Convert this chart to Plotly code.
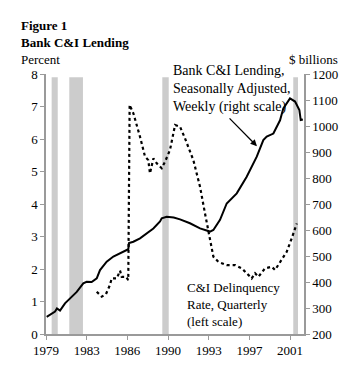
import plotly.graph_objects as go

# Bank C&I lending, weekly (right scale, $ billions)
lend_x = [1979.06, 1979.80, 1979.97, 1980.24, 1980.68, 1981.20, 1981.72, 1982.30, 1982.60, 1983.04,
          1983.49, 1983.78, 1984.37, 1984.96, 1985.55, 1986.28, 1986.35, 1986.73, 1987.32, 1987.91,
          1988.50, 1989.09, 1989.24, 1989.68, 1990.30, 1990.86, 1991.74, 1992.63, 1993.51, 1993.81,
          1994.40, 1994.99, 1995.88, 1996.76, 1997.65, 1998.23, 1998.53, 1999.12, 1999.71, 2000.00,
          2000.59, 2001.04, 2001.42, 2001.54, 2001.73]
lend_y = [266, 286, 298, 290, 318, 340, 362, 395, 401, 400,
          414, 446, 478, 498, 510, 526, 550, 555, 568, 588,
          606, 633, 645, 651, 648, 641, 626, 606, 594, 600,
          639, 702, 741, 805, 882, 946, 959, 971, 1022, 1068,
          1106, 1094, 1061, 1023, 1025]

# C&I delinquency rate, quarterly (left scale, percent)
delq_x = [1983.49, 1983.93, 1984.31, 1984.66, 1984.81, 1985.26, 1985.55, 1985.70, 1986.08, 1986.28,
          1986.40, 1986.73, 1987.32, 1987.76, 1988.05, 1988.20, 1988.50, 1988.80, 1989.24, 1989.53,
          1989.97, 1990.42, 1990.86, 1991.30, 1992.04, 1992.63, 1993.07, 1993.51, 1993.81, 1994.25,
          1994.99, 1995.73, 1996.32, 1996.90, 1997.20, 1997.50, 1997.79, 1998.38, 1998.97, 1999.27,
          1999.71, 2000.30, 2000.74, 2001.04, 2001.19]
delq_y = [1.30, 1.15, 1.23, 1.51, 1.71, 1.71, 1.95, 1.76, 1.76, 1.66,
          7.05, 6.79, 6.07, 5.46, 5.35, 4.94, 5.40, 5.25, 5.10, 5.30,
          5.66, 6.43, 6.38, 6.02, 5.35, 4.53, 3.71, 2.89, 2.38, 2.22,
          2.12, 2.12, 2.02, 1.82, 1.71, 1.87, 1.76, 2.02, 2.07, 1.97,
          2.22, 2.53, 2.94, 3.30, 3.40]

# Recession shading (start, end)
rec_start = [1979.50, 1981.06, 1989.29, 2000.88]
rec_end = [1980.04, 1982.27, 1989.86, 2001.30]

tick_vals = [1979, 1982.6, 1986.2, 1989.8, 1993.4, 1997.0, 2000.6]
tick_text = ["1979", "1983", "1986", "1990", "1993", "1997", "2001"]
left_ticks = [0, 1, 2, 3, 4, 5, 6, 7, 8]
right_ticks = [200, 300, 400, 500, 600, 700, 800, 900, 1000, 1100, 1200]

FONT = "'Liberation Serif', 'Times New Roman', Times, serif"
AXC = "#9a9a9a"

fig = go.Figure()
fig.add_trace(go.Scatter(x=delq_x, y=delq_y, mode="lines", yaxis="y",
                         line=dict(color="black", width=2.2, dash="dot"), showlegend=False))
fig.add_trace(go.Scatter(x=lend_x, y=lend_y, mode="lines", yaxis="y2",
                         line=dict(color="black", width=2), showlegend=False))

for s, e in zip(rec_start, rec_end):
    fig.add_shape(type="rect", xref="x", yref="y", x0=s, x1=e, y0=0, y1=7.9,
                  fillcolor="#cccccc", line=dict(width=0), layer="below")

fig.update_layout(
    width=352, height=366,
    margin=dict(l=38, r=56, t=66, b=40),
    paper_bgcolor="white", plot_bgcolor="white",
    font=dict(family=FONT, size=13, color="black"),
    xaxis=dict(range=[1979, 2001.83], tickvals=tick_vals, ticktext=tick_text,
               showgrid=False, zeroline=False, showline=True, linecolor=AXC, linewidth=1.5,
               ticks="outside", ticklen=4, tickcolor=AXC, tickfont=dict(size=13)),
    yaxis=dict(range=[0, 8], tickvals=left_ticks, showgrid=False, zeroline=False,
               showline=True, linecolor=AXC, linewidth=1.5,
               ticks="outside", ticklen=4, tickcolor=AXC, tickfont=dict(size=13)),
    yaxis2=dict(range=[200, 1200], tickvals=right_ticks, overlaying="y", side="right",
                showgrid=False, zeroline=False, showline=True, linecolor=AXC, linewidth=1.5,
                ticks="outside", ticklen=4, tickcolor=AXC, tickfont=dict(size=13)),
)

fig.add_annotation(xref="paper", yref="paper", x=-0.105, y=1.222, xanchor="left", yanchor="top",
                   text="<b>Figure 1</b><br><b>Bank C&I Lending</b>", align="left", showarrow=False,
                   font=dict(size=13))
fig.add_annotation(xref="paper", yref="paper", x=-0.103, y=1.054, xanchor="left", yanchor="middle",
                   text="Percent", showarrow=False, font=dict(size=13))
fig.add_annotation(xref="paper", yref="paper", x=0.935, y=1.054, xanchor="left", yanchor="middle",
                   text="$ billions", showarrow=False, font=dict(size=13))
fig.add_annotation(xref="x", yref="paper", x=1990.1, y=1.05, xanchor="left", yanchor="top",
                   text="Bank C&I Lending,<br>Seasonally Adjusted,<br>Weekly (right scale)",
                   align="left", showarrow=False, font=dict(size=14))
fig.add_annotation(xref="x", yref="y", x=1991.3, y=1.72, xanchor="left", yanchor="top",
                   text="C&I Delinquency<br>Rate, Quarterly<br>(left scale)",
                   align="left", showarrow=False, font=dict(size=13))
fig.add_annotation(xref="x", yref="y", x=1997.67, y=5.78, axref="x", ayref="y",
                   ax=1995.11, ay=6.68, text="", showarrow=True, arrowhead=2,
                   arrowsize=1, arrowwidth=1.3, arrowcolor="black")

fig.write_html("out.html")
